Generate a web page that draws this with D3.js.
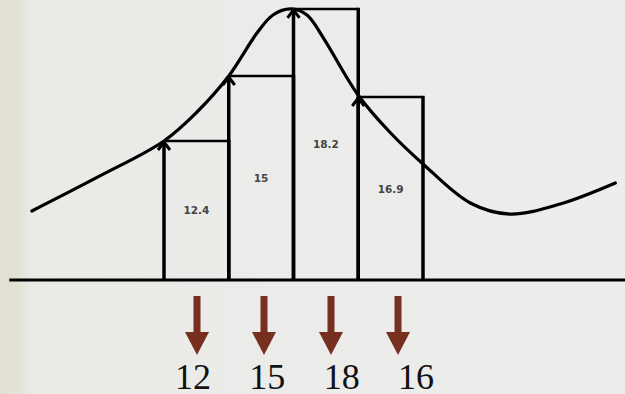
<!DOCTYPE html>
<html><head><meta charset="utf-8">
<script src="https://cdn.jsdelivr.net/npm/d3@7"></script>
<style>html,body{margin:0;padding:0;overflow:hidden;}svg{display:block;}</style>
</head><body>
<script>
// ---- data ----
const barValues = [12.4, 15, 18.2, 16.9];          // labels printed inside bars
const barHeights = [9.93, 14.57, 19.36, 13.07];     // drawn bar heights
const roundedValues = [12, 15, 18, 16];             // labels under red arrows
const curveX = [-2.04, -1.02, 0, 0.51, 1.0, 1.436, 1.683, 1.96, 2.208, 2.46, 3.0, 3.5, 4.0, 4.73, 5.34, 6.12, 6.97];
const curveY = [4.93, 7.36, 9.93, 12.0, 14.57, 17.64, 18.93, 19.36, 18.93, 17.3, 13.2, 10.5, 8.29, 5.5, 4.71, 5.43, 6.93];
const axisExtent = [-2.39, 7.12];

const W = 625, H = 394;
const svg = d3.select("body").append("svg").attr("width", W).attr("height", H);
const defs = svg.append("defs");
const g = defs.append("linearGradient").attr("id", "bg").attr("x1", 0).attr("x2", 1).attr("y1", 0).attr("y2", 0);
g.append("stop").attr("offset", "0").attr("stop-color", "#e1e0d1");
g.append("stop").attr("offset", "0.028").attr("stop-color", "#e3e2d5");
g.append("stop").attr("offset", "0.05").attr("stop-color", "#eaeae7");
g.append("stop").attr("offset", "1").attr("stop-color", "#ededed");
svg.append("rect").attr("width", W).attr("height", H).attr("fill", "url(#bg)");

const x = d3.scaleLinear().domain([0, 4]).range([164, 423]);
const y = d3.scaleLinear().domain([0, 20]).range([280, 0]);

const bars = barValues.map((v, i) => ({v, h: barHeights[i], i}));

// bar tops & right edges
const gb = svg.append("g").attr("stroke", "#000").attr("fill", "none");
bars.forEach(b => {
  gb.append("line").attr("x1", x(b.i)).attr("x2", x(b.i + 1))
    .attr("y1", y(b.h)).attr("y2", y(b.h)).attr("stroke-width", 2.5);
  gb.append("line").attr("x1", x(b.i + 1)).attr("x2", x(b.i + 1))
    .attr("y1", y(b.h) - 1.2).attr("y2", y(0)).attr("stroke-width", 3.5);
});

// curve
const pts = curveX.map((cx, i) => [x(cx), y(curveY[i])]);
svg.append("path").attr("d", d3.line().curve(d3.curveCatmullRom.alpha(0.5))(pts))
  .attr("fill", "none").attr("stroke", "#000").attr("stroke-width", 3.2).attr("stroke-linecap", "round");

// arrows on left edges
bars.forEach(b => {
  const px = x(b.i), py = y(b.h);
  gb.append("line").attr("x1", px).attr("x2", px).attr("y1", py).attr("y2", y(0)).attr("stroke-width", 3.5);
  gb.append("path").attr("d", `M${px - 6},${py + 9}L${px},${py + 1}L${px + 6},${py + 9}`)
    .attr("stroke-width", 3).attr("stroke-linejoin", "miter");
});

// value labels
svg.append("g").selectAll("text").data(bars).join("text")
  .attr("x", d => x(d.i + 0.5)).attr("y", d => (y(d.h) + y(0)) / 2 + 4)
  .attr("text-anchor", "middle").attr("font-family", "DejaVu Sans").attr("font-size", 10.5)
  .attr("font-weight", "bold").attr("fill", "#444").text(d => d.v);

// baseline
svg.append("line").attr("x1", x(axisExtent[0])).attr("x2", x(axisExtent[1]))
  .attr("y1", y(0)).attr("y2", y(0)).attr("stroke", "#000").attr("stroke-width", 3);

// red down arrows
const xa = d3.scalePoint().domain(d3.range(roundedValues.length)).range([197, 398]);
const red = "#772f20";
const ga = svg.append("g").attr("fill", red);
roundedValues.forEach((v, i) => {
  const cx = xa(i);
  ga.append("rect").attr("x", cx - 3.5).attr("y", 296).attr("width", 7).attr("height", 38);
  ga.append("path").attr("d", `M${cx - 12},332L${cx + 12},332L${cx},355Z`);
});

// rounded labels
const xl = d3.scalePoint().domain(d3.range(roundedValues.length)).range([193, 416]);
svg.append("g").selectAll("text").data(roundedValues).join("text")
  .attr("x", (d, i) => xl(i)).attr("y", 389).attr("text-anchor", "middle")
  .attr("font-family", "Liberation Serif").attr("font-size", 36).attr("fill", "#111").text(d => d);
</script>
</body></html>
